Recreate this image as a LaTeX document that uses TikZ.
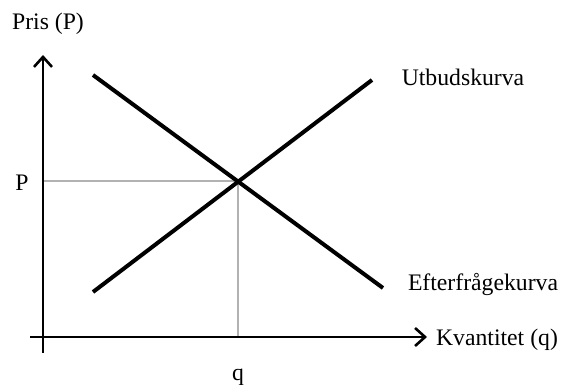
\documentclass[tikz,border=0pt]{standalone}
\usepackage{fontspec}
\setmainfont{Liberation Serif}
\usetikzlibrary{arrows.meta}
\begin{document}
\begin{tikzpicture}[x=1pt,y=-1pt,
  axis/.style={line width=2.6pt,-{Straight Barb[length=10pt,width=18pt,line width=2.6pt]}},
  curve/.style={line width=4pt},
  guide/.style={draw=black!30,line width=1.4pt},
  lbl/.style={font=\fontsize{23.7}{26}\selectfont,inner sep=0pt}]
\useasboundingbox (0,0) rectangle (563,385);
\coordinate (yb) at (43,353);
\coordinate (yt) at (43,55);
\coordinate (xl) at (30,337);
\coordinate (xr) at (427,337);
\coordinate (s1) at (93,292);
\coordinate (s2) at (372,80);
\coordinate (d1) at (93,75);
\coordinate (d2) at (383,288);
\coordinate (eq) at (238,181);
\coordinate (eqy) at (43,181);
\coordinate (eqx) at (238,337);
\draw[guide] (eqy) -- (eq) -- (eqx);
\draw[axis] (yb) -- (yt);
\draw[axis] (xl) -- (xr);
\draw[curve] (s1) -- (s2);
\draw[curve] (d1) -- (d2);
\node[lbl] (pris) at (48,24) {Pris (P)};
\node[lbl] (p) at (22,183) {P};
\node[lbl] (utb) at (463,77) {Utbudskurva};
\node[lbl] (eft) at (483,284) {Efterfrågekurva};
\node[lbl] (kv) at (497,340) {Kvantitet (q)};
\node[lbl] (q) at (238,377) {q};
\end{tikzpicture}
\end{document}
